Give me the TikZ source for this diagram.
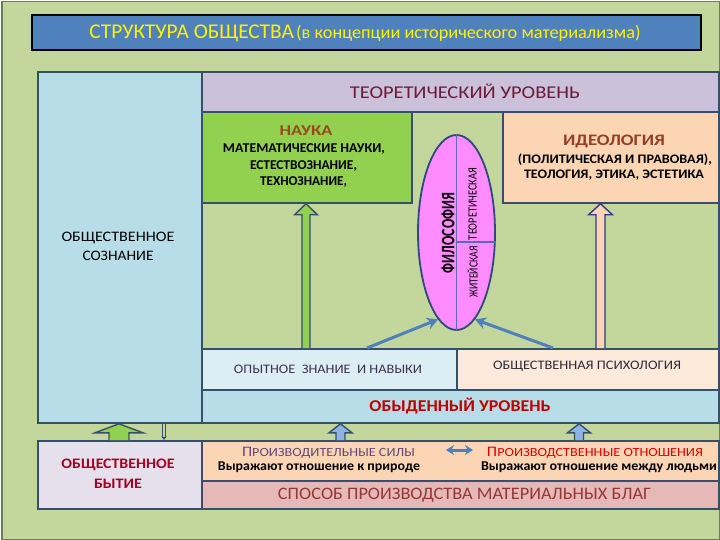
\documentclass[tikz,border=0pt]{standalone}
\usepackage{fontspec}
\setmainfont{Carlito}
\usepackage{graphicx}
\usetikzlibrary{shapes.geometric,arrows.meta,calc}
\definecolor{bg}{HTML}{C3D69B}
\definecolor{frame}{HTML}{6A7F55}
\definecolor{edge}{HTML}{37506A}
\definecolor{titlebl}{HTML}{4F81BD}
\definecolor{aqua}{HTML}{B7DEE8}
\definecolor{lav}{HTML}{CCC1DA}
\definecolor{grn}{HTML}{92D050}
\definecolor{peach}{HTML}{FCD5B5}
\definecolor{ltblue}{HTML}{DBEEF4}
\definecolor{ltpeach}{HTML}{FDEADA}
\definecolor{lavw}{HTML}{E6E0EC}
\definecolor{pinkb}{HTML}{E6B9B8}
\definecolor{ellf}{HTML}{FF8CFF}
\definecolor{elld}{HTML}{2F4A7A}
\definecolor{ellv}{HTML}{5B6BB5}
\definecolor{conn}{HTML}{4F81BD}
\definecolor{arrbl}{HTML}{8DB4E2}
\definecolor{navy}{HTML}{2E3A87}
\definecolor{teorc}{HTML}{6B1A3A}
\definecolor{brownc}{HTML}{9C4A1A}
\definecolor{ideoc}{HTML}{953F2A}
\definecolor{opytc}{HTML}{403151}
\definecolor{psyc}{HTML}{2B2B3B}
\definecolor{redc}{HTML}{C00000}
\definecolor{bytc}{HTML}{A50021}
\definecolor{pfc}{HTML}{5F497A}
\definecolor{poc}{HTML}{E00000}
\definecolor{spc}{HTML}{953735}
\newcommand\fs[1]{\fontsize{#1}{#1}\selectfont}
\newcommand\fw[2]{\resizebox{#1pt}{\height}{#2}}
% block arrow: #1 bottom coord, #2 top coord, #3 shaft half, #4 head half, #5 head length, #6 style
\newcommand\blockup[6]{%
  \draw[#6] let \p1=(#1), \p2=(#2) in
    (\x1-#3,\y1) -- (\x1-#3,\y2-#5) -- (\x1-#4,\y2-#5) -- (\x1,\y2)
    -- (\x1+#4,\y2-#5) -- (\x1+#3,\y2-#5) -- (\x1+#3,\y1);}
\begin{document}
\begin{tikzpicture}[x=1pt,y=-1pt,
  box/.style={draw=edge, line width=1.8pt, inner sep=0pt, anchor=north west},
  txt/.style={inner sep=0pt, anchor=center},
  connarrow/.style={draw=conn, line width=3pt, -{Stealth[length=11pt,width=12pt]}},
  barrow/.style={line width=1.4pt, line join=miter}]
\useasboundingbox (0,0) rectangle (720,540);
\node[fill=bg, draw=frame, line width=1.5pt, minimum width=718pt, minimum height=538pt, inner sep=0, anchor=north west] (back) at (1,1) {};
% title
\node[box, draw=black, line width=2.2pt, fill=titlebl, minimum width=669pt, minimum height=35pt] (title) at (31,14) {};
\node[txt, text=yellow] (titletxt) at (365,33) {\fw{551}{{\fs{21}СТРУКТУРА ОБЩЕСТВА} {\fs{18}(в концепции исторического материализма)}}};
% consciousness block
\node[box, fill=aqua, minimum width=164pt, minimum height=351pt] (soz) at (37,71) {};
\node[box, fill=lav, minimum width=517pt, minimum height=40pt] (teor) at (201,71) {};
\node[box, fill=bg, minimum width=517pt, minimum height=237pt] (mid) at (201,111) {};
\node[box, fill=grn, minimum width=210pt, minimum height=91pt] (nauka) at (201,111) {};
\node[box, fill=peach, minimum width=216pt, minimum height=91pt] (ideo) at (502,111) {};
\node[box, fill=ltblue, minimum width=255pt, minimum height=41pt] (opyt) at (201,348) {};
\node[box, fill=ltpeach, minimum width=262pt, minimum height=41pt] (psych) at (456,348) {};
\node[box, fill=aqua, minimum width=517pt, minimum height=33pt] (obyd) at (201,389) {};
% being block
\node[box, fill=lavw, minimum width=164pt, minimum height=68pt] (byt) at (37,440) {};
\node[box, fill=peach, minimum width=517pt, minimum height=40pt] (prod) at (201,440) {};
\node[box, fill=pinkb, minimum width=517pt, minimum height=28pt] (sposob) at (201,480) {};
% philosophy ellipse
\node[ellipse, draw=elld, fill=ellf, line width=1.8pt, minimum width=77pt, minimum height=195pt, inner sep=0pt] (phil) at (456.5,232.5) {};
\draw[ellv, line width=1.3pt] (phil.north) -- (phil.south);
\draw[ellv, line width=1.3pt] (phil.center) ++(0,9.5) -- ++(38.3,0);
\node[txt, rotate=90] (philtxt) at (448,233) {\fw{80}{\bfseries\fs{19}ФИЛОСОФИЯ}};
\node[txt, rotate=90] (teortxt) at (472.5,204) {\fw{72}{\fs{12.5}ТЕОРЕТИЧЕСКАЯ}};
\node[txt, rotate=90] (zhittxt) at (472.5,272) {\fw{51}{\fs{12.5}ЖИТЕЙСКАЯ}};
% texts
\node[txt, text=teorc] (teortitle) at (465,91) {\fw{230}{\fs{18}ТЕОРЕТИЧЕСКИЙ УРОВЕНЬ}};
\node[txt, text=brownc] (naukat) at (306,131) {\fw{53}{\bfseries\fs{15}НАУКА}};
\node[txt] (nauka1) at (304,149) {\fw{162}{\bfseries\fs{13.5}МАТЕМАТИЧЕСКИЕ НАУКИ,}};
\node[txt] (nauka2) at (303.5,166) {\fw{107}{\bfseries\fs{13.5}ЕСТЕСТВОЗНАНИЕ,}};
\node[txt] (nauka3) at (303.5,182) {\fw{87}{\bfseries\fs{13.5}ТЕХНОЗНАНИЕ,}};
\node[txt, text=ideoc] (ideot) at (614,141) {\fw{102}{\bfseries\fs{16}ИДЕОЛОГИЯ}};
\node[txt] (ideo1) at (615,159.5) {\fw{194}{\bfseries\fs{13}(ПОЛИТИЧЕСКАЯ И ПРАВОВАЯ),}};
\node[txt] (ideo2) at (614,175) {\fw{180}{\bfseries\fs{13}ТЕОЛОГИЯ, ЭТИКА, ЭСТЕТИКА}};
\node[txt] (soz1) at (118,238) {\fw{113}{\fs{14.5}ОБЩЕСТВЕННОЕ}};
\node[txt] (soz2) at (118,256) {\fw{71}{\fs{14.5}СОЗНАНИЕ}};
\node[txt, text=opytc] (opytt) at (328,369) {\fw{188}{\fs{13}ОПЫТНОЕ \ ЗНАНИЕ \ И НАВЫКИ}};
\node[txt, text=psyc] (psycht) at (587,366) {\fw{188}{\fs{13}ОБЩЕСТВЕННАЯ ПСИХОЛОГИЯ}};
\node[txt, text=redc] (obydt) at (460,406) {\fw{181}{\bfseries\fs{16.5}ОБЫДЕННЫЙ УРОВЕНЬ}};
\node[txt, text=bytc] (byt1) at (118,465) {\fw{113}{\bfseries\fs{14.5}ОБЩЕСТВЕННОЕ}};
\node[txt, text=bytc] (byt2) at (118,484) {\fw{48}{\bfseries\fs{14.5}БЫТИЕ}};
\node[txt, text=pfc] (pf) at (328.5,453) {\fw{173}{{\fs{14.5}П}{\fs{12.5}РОИЗВОДИТЕЛЬНЫЕ СИЛЫ}}};
\node[txt] (pf2) at (319,467) {\fw{202}{\bfseries\fs{13.5}Выражают отношение к природе}};
\node[txt, text=poc] (po) at (595,453) {\fw{216}{{\fs{14.5}П}{\fs{12.5}РОИЗВОДСТВЕННЫЕ ОТНОШЕНИЯ}}};
\node[txt] (po2) at (599,467) {\fw{236}{\bfseries\fs{13.5}Выражают отношение между людьми}};
\node[txt, text=spc] (spt) at (464.5,495) {\fw{373}{\fs{17.5}СПОСОБ ПРОИЗВОДСТВА МАТЕРИАЛЬНЫХ БЛАГ}};
% connectors into philosophy
\draw[connarrow] (opyt.north west) ++(166,0) -- (phil.258);
\draw[connarrow] (psych.north west) ++(97,0) -- (phil.282);
% block arrows
\path (opyt.north west) ++(105,0) coordinate (na-b);
\path (nauka.south west) ++(105,0) coordinate (na-t);
\blockup{na-b}{na-t}{4pt}{11.5pt}{11pt}{barrow, draw=edge, fill=grn}
\path (psych.north west) ++(144.5,0) coordinate (id-b);
\path (ideo.south west) ++(98.5,0) coordinate (id-t);
\blockup{id-b}{id-t}{4.5pt}{12pt}{11pt}{barrow, draw=navy, fill=peach}
\path (byt.north west) ++(82,0) coordinate (g-b);
\path (soz.south west) ++(82,0) coordinate (g-t);
\blockup{g-b}{g-t}{10pt}{24pt}{9pt}{barrow, draw=edge, fill=grn}
\path (prod.north west) ++(139.5,0) coordinate (b1-b);
\path (obyd.south west) ++(139.5,0) coordinate (b1-t);
\blockup{b1-b}{b1-t}{4.5pt}{11.5pt}{9pt}{barrow, draw=edge, fill=arrbl}
\path (prod.north west) ++(378,0) coordinate (b2-b);
\path (obyd.south west) ++(378,0) coordinate (b2-t);
\blockup{b2-b}{b2-t}{4.5pt}{11.5pt}{9pt}{barrow, draw=edge, fill=arrbl}
\path (soz.south west) ++(127,0) coordinate (t-t);
\path (byt.north west) ++(127,0) coordinate (t-b);
\draw[draw=edge, line width=1pt, double=bg, double distance=2.5pt, -{Stealth[length=4pt,width=5pt]}] (t-t) -- (t-b);
% double arrow between productive forces and relations
\coordinate (da1) at (446,450);
\coordinate (da2) at (473,450);
\draw[draw=conn, line width=3pt, {Stealth[length=8pt,width=10pt]}-{Stealth[length=8pt,width=10pt]}] (da1) -- (da2);
\end{tikzpicture}
\end{document}
